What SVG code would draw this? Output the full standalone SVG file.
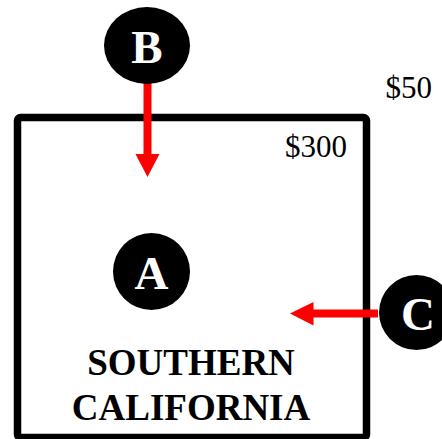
<svg xmlns="http://www.w3.org/2000/svg" width="442" height="439" viewBox="0 0 442 439">
  <style>
    .badge { fill: #000; }
    .badge-label { font-family: "Liberation Serif", "Times New Roman", serif; font-weight: bold; font-size: 47px; fill: #fff; text-anchor: middle; }
    .price { font-family: "Liberation Serif", "Times New Roman", serif; font-size: 31px; fill: #000; }
    .region-label { font-family: "Liberation Serif", "Times New Roman", serif; font-weight: bold; font-size: 37px; fill: #000; text-anchor: middle; }
    .flow { stroke: #ff0000; stroke-width: 8; fill: none; }
    .flow-head { fill: #ff0000; }
  </style>

  <rect width="442" height="439" fill="#fff"/>

  <!-- Southern California region box -->
  <g id="region">
    <rect x="17.5" y="117.5" width="349" height="320" rx="3" fill="none" stroke="#000" stroke-width="7.5"/>
    <text class="price" x="285" y="157">$300</text>
    <text class="region-label" x="191" y="375">SOUTHERN</text>
    <text class="region-label" x="191" y="420">CALIFORNIA</text>
  </g>

  <text class="price" x="385.5" y="98">$50</text>

  <!-- Connectors -->
  <g id="connectors">
    <line class="flow" x1="147.5" y1="82" x2="147.5" y2="156"/>
    <polygon class="flow-head" points="135.5,154 159.5,154 147.5,177"/>
    <line class="flow" x1="378" y1="313.5" x2="311" y2="313.5"/>
    <polygon class="flow-head" points="313.5,302 313.5,325.5 290,313.5"/>
  </g>

  <g id="node-B">
    <ellipse class="badge" cx="147" cy="45.5" rx="43" ry="38.5"/>
    <text class="badge-label" x="147" y="63">B</text>
  </g>

  <g id="node-A">
    <circle class="badge" cx="151.5" cy="271.5" r="38.5"/>
    <text class="badge-label" x="151.5" y="289">A</text>
  </g>

  <g id="node-C">
    <circle class="badge" cx="416.5" cy="312.5" r="37.5"/>
    <text class="badge-label" x="418" y="330">C</text>
  </g>
</svg>
